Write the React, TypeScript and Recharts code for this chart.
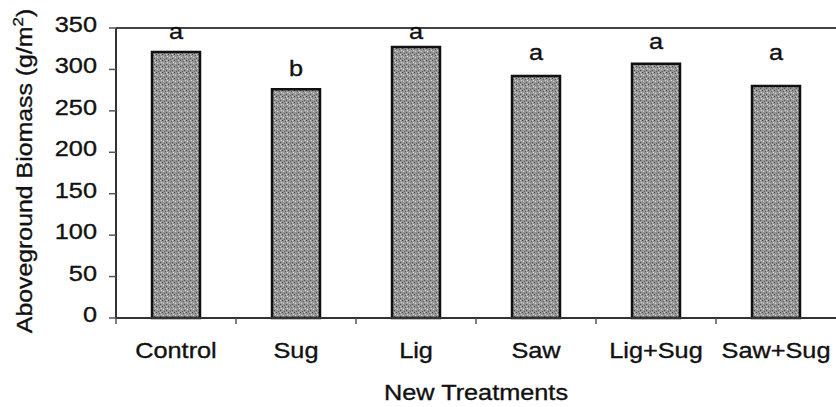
import React from "react"
import {
  ComposedChart,
  Bar,
  Scatter,
  XAxis,
  YAxis,
  ReferenceLine,
} from "recharts"

// values
const treatments = ["Control", "Sug", "Lig", "Saw", "Lig+Sug", "Saw+Sug"]
const biomass = [321, 276, 327, 292, 307, 280]
const letters = ["a", "b", "a", "a", "a", "a"]
// height (in g/m2) at which each significance letter sits
const letterAt = [344, 299, 344, 319, 332, 319]
const yTicks = [0, 50, 100, 150, 200, 250, 300, 350]

const data = treatments.map((name, i) => ({
  name,
  biomass: biomass[i],
  letter: letters[i],
  letterAt: letterAt[i],
}))

const FONT = "Arial, 'Liberation Sans', Helvetica, sans-serif"
const FS = 22
const STRETCH = 1.15 // the scanned type is wider than plain Arial
const W = 836
const H = 407
const margin = { top: 28, right: 0, left: 56, bottom: 59 }
const band = (W - margin.left - margin.right - 60) / treatments.length

// stretched text helper
const Wide = ({ x, y, anchor = "middle", size = FS, children }: any) => (
  <text
    transform={`translate(${x},${y}) scale(${STRETCH},1)`}
    textAnchor={anchor}
    fontFamily={FONT}
    fontSize={size}
    fill="#111"
    stroke="#111"
    strokeWidth={0.35}
  >
    {children}
  </text>
)

// category tick: text at centre, tick mark on the left boundary
const CatTick = (props: any) => {
  const { x, y, payload } = props
  const bx = x - band / 2
  return (
    <g>
      <line x1={bx} y1={y - 8} x2={bx} y2={y - 2} stroke="#555" strokeWidth={1.5} />
      <Wide x={x} y={y + 32}>{payload.value}</Wide>
    </g>
  )
}

const ValTick = (props: any) => {
  const { x, y, payload } = props
  return <Wide x={x} y={y + 4} anchor="end">{payload.value}</Wide>
}

const YTitle = () => (
  <text
    transform={`translate(25,171) rotate(-90) scale(1.13,1)`}
    textAnchor="middle"
    dominantBaseline="central"
    fontFamily={FONT}
    fontSize={FS}
    fill="#111"
    stroke="#111"
    strokeWidth={0.35}
  >
    Aboveground Biomass (g/m
    <tspan dy={-8} fontSize={15}>2</tspan>
    <tspan dy={8}>)</tspan>
  </text>
)

const XTitle = (props: any) => {
  const vb = props.viewBox || {}
  const cx = (vb.x ?? 116) + (vb.width ?? 720) / 2
  return <Wide x={cx} y={400}>New Treatments</Wide>
}

const Letter = (props: any) => {
  const { cx, cy, payload } = props
  return <Wide x={cx} y={cy + 6}>{payload.letter}</Wide>
}

export default function App() {
  return (
    <div style={{ position: "absolute", left: 0, top: 0, background: "#fff" }}>
      <ComposedChart width={W} height={H} data={data} margin={margin} barCategoryGap="30%">
        <defs>
          <pattern id="stipple" width="6" height="6" patternUnits="userSpaceOnUse">
            <rect width="6" height="6" fill="#969696" />
            <rect x="0" y="0" width="1" height="1" fill="#404040" />
            <rect x="3" y="1" width="1" height="1" fill="#5a5a5a" />
            <rect x="1" y="3" width="1" height="1" fill="#d8d8d8" />
            <rect x="4" y="4" width="1" height="1" fill="#4a4a4a" />
            <rect x="5" y="2" width="1" height="1" fill="#e0e0e0" />
            <rect x="2" y="5" width="1" height="1" fill="#606060" />
            <rect x="4" y="0" width="1" height="1" fill="#cfcfcf" />
          </pattern>
        </defs>
        <XAxis
          dataKey="name"
          interval={0}
          tickLine={false}
          axisLine={{ stroke: "#333", strokeWidth: 2 }}
          tick={<CatTick />}
          height={30}
          label={<XTitle />}
        />
        <YAxis
          domain={[0, 350]}
          ticks={yTicks}
          width={60}
          tickSize={7}
          tickMargin={12}
          axisLine={{ stroke: "#333", strokeWidth: 2 }}
          tickLine={{ stroke: "#555", strokeWidth: 1.5 }}
          tick={<ValTick />}
          label={<YTitle />}
        />
        <ReferenceLine y={350} stroke="#444" strokeWidth={2} />
        <Bar
          dataKey="biomass"
          fill="url(#stipple)"
          stroke="#111"
          strokeWidth={2.5}
          isAnimationActive={false}
        />
        <Scatter
          dataKey="letterAt"
          shape={<Letter />}
          isAnimationActive={false}
        />
      </ComposedChart>
    </div>
  )
}
